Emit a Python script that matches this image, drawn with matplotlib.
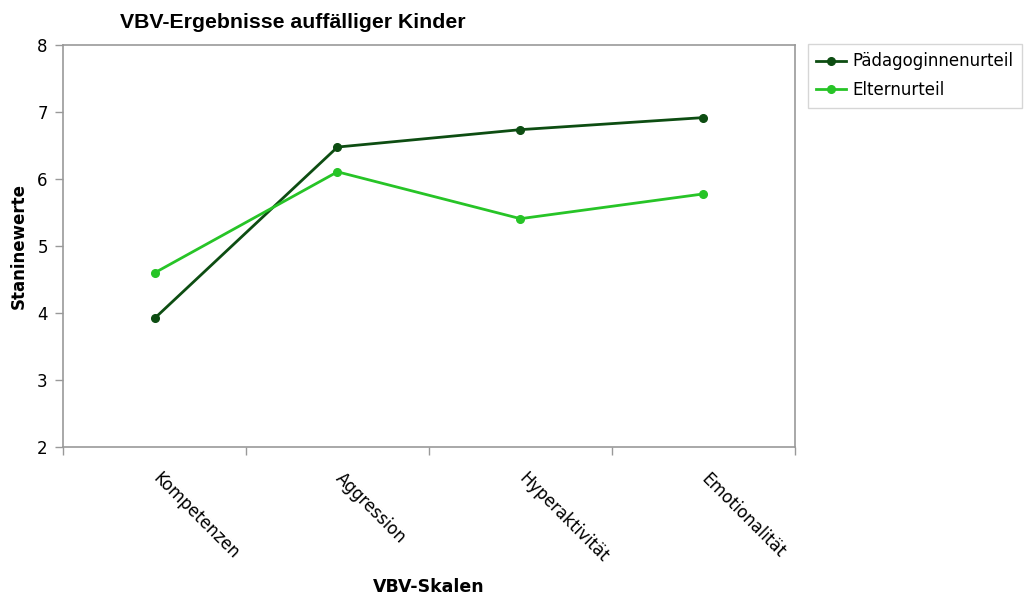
import numpy as np
import matplotlib.pyplot as plt

categories = ["Kompetenzen", "Aggression", "Hyperaktivität", "Emotionalität"]
paed = [3.92, 6.48, 6.74, 6.92]
eltern = [4.60, 6.11, 5.41, 5.78]
yticks = [2, 3, 4, 5, 6, 7, 8]

fig = plt.figure(figsize=(10.25, 6.04), dpi=100)
ax = fig.add_axes([0.0615, 0.26, 0.714, 0.665])

x = np.arange(len(categories)) + 0.5
ax.plot(x, paed, color="#0d4d12", lw=2, marker="o", ms=5.5, label="Pädagoginnenurteil")
ax.plot(x, eltern, color="#27c427", lw=2, marker="o", ms=5.5, label="Elternurteil")

ax.set_xlim(0, len(categories))
ax.set_ylim(2, 8)
ax.set_yticks(yticks)
ax.set_yticklabels([str(v) for v in yticks], fontsize=12)
ax.set_xticks(np.arange(len(categories) + 1))
ax.set_xticklabels([])
ax.tick_params(axis="both", color="#999999", length=6, width=1, pad=5)
for s in ax.spines.values():
    s.set_color("#999999")
    s.set_linewidth(1.2)

for xi, name in zip(x, categories):
    ax.text(xi + 0.04, 1.66, name, rotation=-45, ha="left", va="top",
            rotation_mode="anchor", fontsize=12, transform=ax.transData, clip_on=False)

ax.set_ylabel("Staninewerte", fontsize=12, fontweight="bold", labelpad=7)
fig.text(0.418, 0.02, "VBV-Skalen", fontsize=12.5, fontweight="bold", ha="center")
fig.text(0.286, 0.953, "VBV-Ergebnisse auffälliger Kinder", fontsize=15.3,
         fontweight="bold", family="Liberation Sans", ha="center")

leg = fig.legend(loc="upper left", bbox_to_anchor=(0.788, 0.927), fontsize=12,
                 frameon=True, fancybox=False, handlelength=1.8, borderpad=0.5,
                 labelspacing=0.65, handletextpad=0.4, borderaxespad=0)
leg.get_frame().set_edgecolor("#cccccc")
leg.get_frame().set_linewidth(1)

fig.savefig("out.png", dpi=100)
